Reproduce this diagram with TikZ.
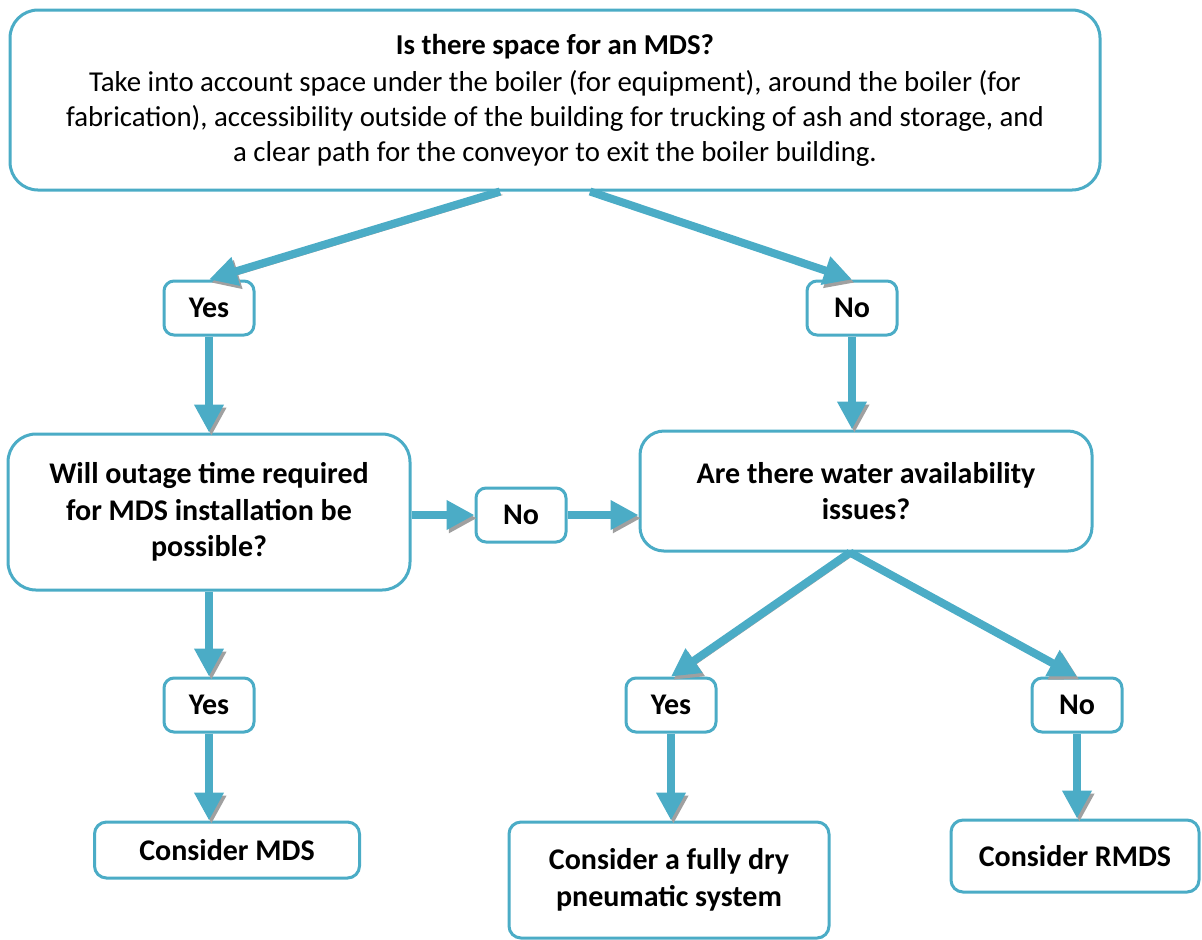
\documentclass[tikz,border=0pt]{standalone}
\usepackage{fontspec}
\setmainfont{Carlito}
\usetikzlibrary{arrows.meta, positioning}
\definecolor{boxblue}{RGB}{75,172,198}
\definecolor{shadowgray}{RGB}{160,160,160}

\begin{document}
\begin{tikzpicture}[x=0.5pt,y=-0.5pt,
  box/.style={draw=boxblue, fill=white, line width=1.5pt, rounded corners=14pt, align=center, inner sep=2pt,
    font=\fontsize{15}{18.3}\selectfont\bfseries},
  tag/.style={box, rounded corners=5pt, minimum width=45pt, minimum height=27pt},
  flow/.style={draw=boxblue, line width=4pt, -{Triangle[length=14pt,width=14pt]},
    preaction={draw=shadowgray, transform canvas={shift={(1.2pt,-1.6pt)}}}}]
  \useasboundingbox (0,0) rectangle (1202,939);

  % question boxes
  \node[box, minimum width=545pt, minimum height=90pt, font=\fontsize{14.4}{17.3}\selectfont\mdseries] (space) at (555,100)
    {\textbf{Is there space for an MDS?}\\[1.5pt]
     Take into account space under the boiler (for equipment), around the boiler (for\\
     fabrication), accessibility outside of the building for trucking of ash and storage, and\\
     a clear path for the conveyor to exit the boiler building.};
  \node[box, minimum width=201pt, minimum height=78pt] (outage) at (209,512)
    {Will outage time required\\for MDS installation be\\possible?};
  \node[box, rounded corners=12pt, minimum width=226pt, minimum height=60pt] (water) at (866,491)
    {Are there water availability\\issues?};

  % answer tags
  \node[tag] (yes1) at (209,308) {Yes};
  \node[tag] (no1) at (852,308) {No};
  \node[tag] (nomid) at (521,515) {No};
  \node[tag] (yes2) at (209,705) {Yes};
  \node[tag] (yes3) at (671,705) {Yes};
  \node[tag] (no3) at (1077,705) {No};

  % outcomes
  \node[box, rounded corners=6pt, minimum width=132.5pt, minimum height=28pt] (mds) at (227,850) {Consider MDS};
  \node[box, rounded corners=6pt, minimum width=160pt, minimum height=58pt] (dry) at (669,880)
    {Consider a fully dry\\pneumatic system};
  \node[box, rounded corners=6pt, minimum width=124pt, minimum height=36pt] (rmds) at (1075,856) {Consider RMDS};

  \coordinate (spaceL) at ([xshift=-27.5pt]space.south);
  \coordinate (spaceR) at ([xshift=17.5pt]space.south);
  \coordinate (waterB) at ([xshift=-8pt]water.south);

  % connectors
  \draw[flow] (spaceL) -- (yes1.north);
  \draw[flow] (spaceR) -- (no1.north);
  \draw[flow] (yes1) -- (outage);
  \draw[flow] (no1) -- (water.north -| no1);
  \draw[flow] (outage.east |- nomid) -- (nomid);
  \draw[flow] (nomid) -- (water.west |- nomid);
  \draw[flow] (outage) -- (yes2);
  \draw[flow] (yes2) -- (mds.north -| yes2);
  \draw[flow] (waterB) -- (yes3.north);
  \draw[flow] (waterB) -- (no3.north);
  \draw[flow] (yes3) -- (dry.north -| yes3);
  \draw[flow] (no3) -- (rmds.north -| no3);
\end{tikzpicture}
\end{document}
